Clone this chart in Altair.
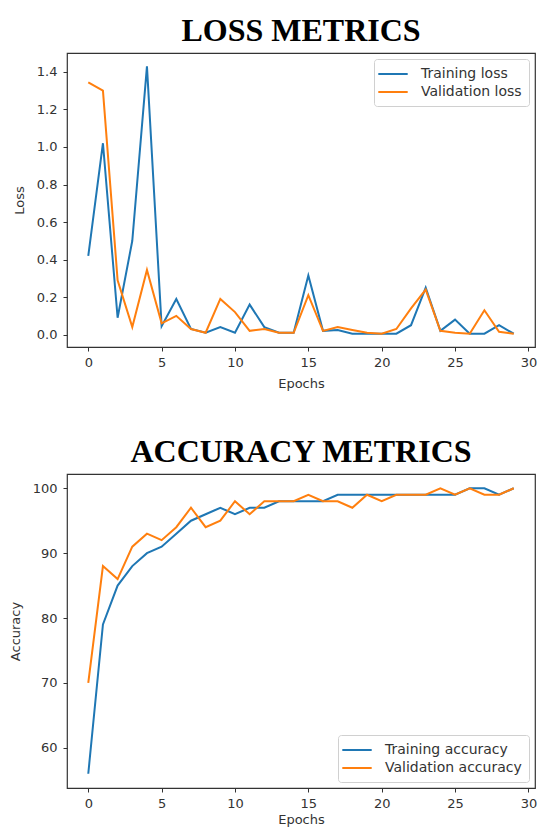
import altair as alt
import pandas as pd

epochs = list(range(30))
train_loss = [0.42, 1.02, 0.09, 0.50, 1.43, 0.045, 0.19, 0.03, 0.01, 0.04,
              0.01, 0.16, 0.04, 0.01, 0.01, 0.315, 0.02, 0.025, 0.005, 0.005,
              0.005, 0.005, 0.05, 0.25, 0.02, 0.08, 0.005, 0.005, 0.05, 0.005]
val_loss = [1.345, 1.30, 0.29, 0.04, 0.345, 0.06, 0.10, 0.03, 0.01, 0.19,
            0.12, 0.02, 0.03, 0.01, 0.01, 0.21, 0.02, 0.04, 0.025, 0.01,
            0.005, 0.03, 0.14, 0.24, 0.02, 0.01, 0.005, 0.13, 0.015, 0.005]
train_acc = [56, 79, 85, 88, 90, 91, 93, 95, 96, 97,
             96, 97, 97, 98, 98, 98, 98, 99, 99, 99,
             99, 99, 99, 99, 99, 99, 100, 100, 99, 100]
val_acc = [70, 88, 86, 91, 93, 92, 94, 97, 94, 95,
           98, 96, 98, 98, 98, 99, 98, 98, 97, 99,
           98, 99, 99, 99, 100, 99, 100, 99, 99, 100]

loss_names = ["Training loss", "Validation loss"]
acc_names = ["Training accuracy", "Validation accuracy"]
loss_ticks = [0.0, 0.2, 0.4, 0.6, 0.8, 1.0, 1.2, 1.4]
acc_ticks = [60, 70, 80, 90, 100]
x_ticks = [0, 5, 10, 15, 20, 25, 30]
colors = ["#1f77b4", "#ff7f0e"]


def long_df(names, a, b):
    rows = []
    for e, v in zip(epochs, a):
        rows.append({"epoch": e, "value": v, "series": names[0], "k": 0})
    for e, v in zip(epochs, b):
        rows.append({"epoch": e, "value": v, "series": names[1], "k": 1})
    return pd.DataFrame(rows)


def panel(df, names, ytitle, ydomain, yticks, yfmt, title, orient, w, h,
          xtitle_pad):
    legend = alt.Legend(
        title=None, orient=orient, offset=6,
        fillColor="white", strokeColor="#d0d0d0", cornerRadius=3,
        padding=7, symbolType="M-2.1,0L2.1,0", symbolSize=196,
        symbolStrokeWidth=2, symbolOffset=4, labelOffset=20,
        rowPadding=3, labelFontSize=14, labelFont="DejaVu Sans",
        labelColor="#333",
    )
    return alt.Chart(df).mark_line(strokeWidth=2).encode(
        x=alt.X("epoch:Q",
                scale=alt.Scale(domain=[-1.45, 30.45], nice=False, zero=False),
                axis=alt.Axis(values=x_ticks, format="d", title="Epochs",
                              titlePadding=xtitle_pad)),
        y=alt.Y("value:Q",
                scale=alt.Scale(domain=ydomain, nice=False, zero=False),
                axis=alt.Axis(values=yticks, format=yfmt, title=ytitle,
                              labelPadding=6, titlePadding=10)),
        color=alt.Color("series:N",
                        scale=alt.Scale(domain=names, range=colors),
                        legend=legend),
        order="k:Q",
    ).properties(
        width=w, height=h,
        title=alt.TitleParams(text=title, font="Liberation Serif", fontSize=32,
                              fontWeight="bold", color="black", anchor="middle",
                              baseline="alphabetic", offset=-20),
    )


loss_chart = panel(long_df(loss_names, train_loss, val_loss), loss_names, "Loss",
                   [-0.066, 1.501], loss_ticks, ".1f", "LOSS METRICS",
                   "top-right", 468, 294, 8)
acc_chart = panel(long_df(acc_names, train_acc, val_acc), acc_names, "Accuracy",
                  [53.8, 102.2], acc_ticks, "d", "ACCURACY METRICS",
                  "bottom-right", 468, 314, 3)

chart = alt.concat(loss_chart, acc_chart, columns=1, spacing=44,
                   align="none").resolve_scale(
    color="independent").resolve_legend(color="independent").properties(
    padding={"left": 0, "top": 6, "right": 0, "bottom": 0},
    background="white",
).configure_view(
    stroke="#333", strokeWidth=1.2,
).configure_axis(
    domain=False, grid=False, tickColor="#333", tickSize=4, tickWidth=1,
    labelFont="DejaVu Sans", labelFontSize=13, labelColor="#333",
    labelPadding=5, titleFont="DejaVu Sans", titleFontSize=13,
    titleFontWeight="normal", titleColor="#333", titlePadding=8,
)

chart.save("out.html", embed_options={"renderer": "svg", "actions": False})
